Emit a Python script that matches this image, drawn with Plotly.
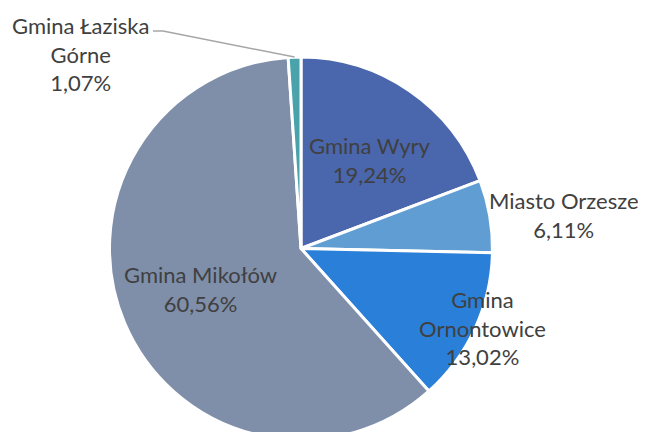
import math
import plotly.graph_objects as go

labels = ["Gmina Wyry", "Miasto Orzesze", "Gmina Ornontowice", "Gmina Mikołów", "Gmina Łaziska Górne"]
values = [19.24, 6.11, 13.02, 60.56, 1.07]
label_text = ["Gmina Wyry<br>19,24%", "Miasto Orzesze<br>6,11%", "Gmina<br>Ornontowice<br>13,02%",
              "Gmina Mikołów<br>60,56%", "Gmina Łaziska<br>Górne<br>1,07%"]
colors = ["#4a66ac", "#5f9dd3", "#2a7fd8", "#7f8faa", "#4aa3ab"]

W, H = 646, 432
OFF = 8  # page body margin
top = 49
R = (H - top) / 2
cx, cy = 293, top + R  # figure coordinates

fig = go.Figure(go.Pie(
    labels=labels, values=values, sort=False, direction="clockwise", rotation=0,
    marker=dict(colors=colors, line=dict(color="white", width=3)),
    textinfo="none", hoverinfo="label+percent", showlegend=False,
    domain=dict(x=[0.1, 2 * cx / W - 0.1], y=[0, 1]),
))


def px2paper(sx, sy):
    # screen pixel -> paper coords of plot area
    fx, fy = sx - OFF, sy - OFF
    return fx / W, 1 - (fy - top) / (H - top)


# label centres on screen
label_pos = [(370, 160), (564, 215), (482, 328), (200, 289), (80, 54)]
total = sum(values)
cum = 0
font = dict(family="Lato", size=22, color="#404040")
for i, v in enumerate(values):
    mid = (cum + v / 2) / total * 2 * math.pi
    cum += v
    ex, ey = cx + R * math.sin(mid) + OFF, cy - R * math.cos(mid) + OFF
    if i == 4:
        a = px2paper(153, 31)
        b = px2paper(163, 31)
        c = px2paper(ex, ey)
        fig.add_shape(type="path", xref="paper", yref="paper",
                      path=f"M {a[0]} {a[1]} L {b[0]} {b[1]} L {c[0]} {c[1]}",
                      line=dict(color="#a6a6a6", width=1.5))
    x, y = px2paper(*label_pos[i])
    fig.add_annotation(x=x, y=y, xref="paper", yref="paper",
                       text=label_text[i], showarrow=False, font=font,
                       xanchor="center", yanchor="middle", align="center")

fig.update_layout(width=W, height=H, margin=dict(l=0, r=0, t=top, b=0),
                  paper_bgcolor="white", plot_bgcolor="white")
fig.write_html("out.html")
